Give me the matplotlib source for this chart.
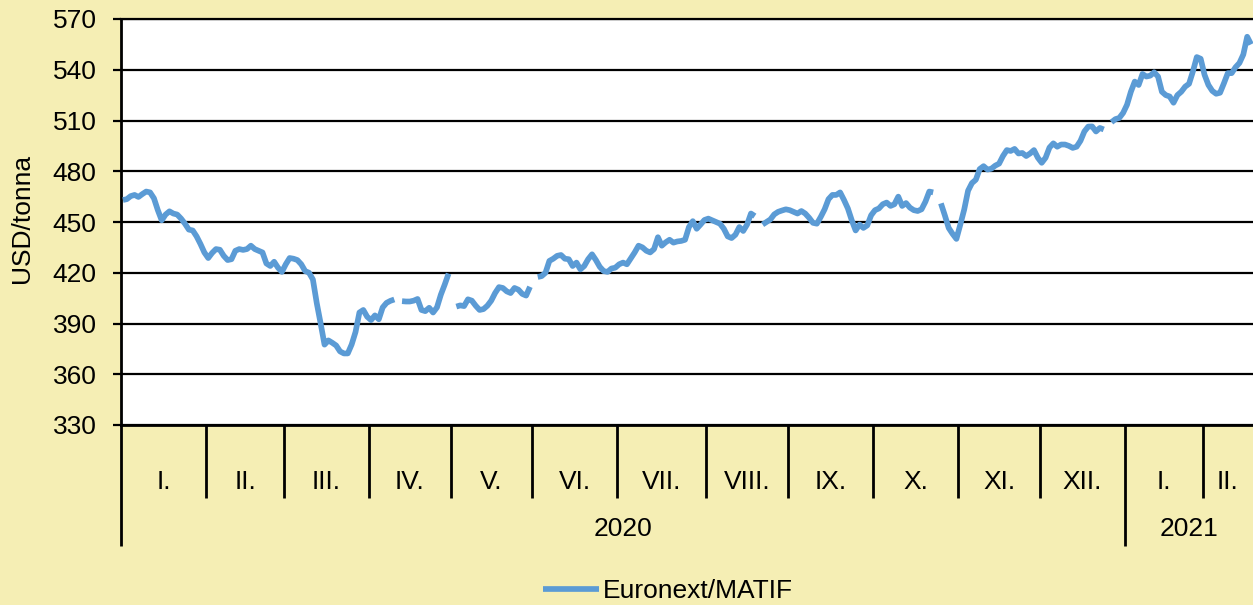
import numpy as np
import matplotlib
matplotlib.use("Agg")
import matplotlib.pyplot as plt
from matplotlib.lines import Line2D

plt.rcParams['font.family'] = ['Liberation Sans', 'DejaVu Sans']

nan = np.nan

# Daily Euronext/MATIF prices (USD/tonna), one list per month
jan20 = [463, 463.5, 465.3, 466, 464.8, 466.5, 468, 467.5, 464, 457, 451, 454.4, 456.3, 455,
         454.4, 452, 449, 445.5, 445, 441.5, 437, 432]
feb20 = [428.7, 431.7, 434, 433.6, 430, 427.5, 428, 433, 434, 433.5, 434, 436, 434, 433, 432,
         425.5, 424, 426.5, 423, 420.5]
mar20 = [425, 428.7, 428.3, 427.5, 425, 421, 420, 416, 402, 390, 377.5, 380, 378.6, 377,
         373.5, 372.3, 372.3, 377.6, 385, 396.5, 398, 394]
apr20 = [392, 394.8, 392.5, 399.5, 402.2, 403.4, 404.2, nan, 403.2, 403, 403, 403.5, 404.5,
         398, 397.3, 399.3, 396.5, 399.5, 407, 413, 419.5]
may20 = [nan, 400, 400.7, 400.3, 404.3, 403.5, 400.5, 398, 398.5, 400.5, 403.5, 408, 411.5,
         411, 409, 408, 411, 410, 407.5, 406.5, 411.7]
jun20 = [nan, 417.5, 418, 420, 427, 428.3, 430, 430.5, 428.3, 428, 424, 426, 422, 424, 428,
         430.9, 427.5, 423.5, 421, 420.5, 422.5, 423]
jul20 = [425, 426, 425, 428.5, 432, 436, 435, 433, 432, 434, 441, 436, 438, 439.5, 437.8,
         438.5, 438.8, 439.5, 447, 450.5, 446, 448.5, 451.2]
aug20 = [452, 451, 450, 449, 446, 441.5, 440.5, 442.5, 447, 444.7, 448.5, 455, 453.5, nan,
         448.5, 450, 451.5, 454.5, 456, 456.8, 457.5]
sep20 = [457, 456, 455, 456.5, 455, 452.5, 449.5, 449, 453, 457.5, 463.5, 466, 466, 467.5,
         463, 458, 451, 445, 448.5, 446.5, 448, 454]
oct20 = [457, 458, 460.5, 461.5, 459.5, 460.5, 465, 459.5, 461.2, 458.5, 457, 456.5, 457.5,
         462, 468, 467.5, nan, 461, 454, 446.5, 443, 440]
nov20 = [448.5, 457.3, 468.5, 473, 475, 481.3, 483, 481, 481.5, 483.3, 484.5, 489, 492.5,
         492, 493.2, 490.5, 490.8, 489, 490.5, 492.5, 488]
dec20 = [485, 488, 494, 496.5, 494.5, 495.8, 495.8, 495, 493.8, 494.5, 498, 503.5, 506.4,
         506.5, 503.5, 505.6, 504.7, nan, 509, 510.8, 511.5, 514.5]
jan21 = [519.3, 527, 533, 531, 537.5, 536, 536.5, 538.5, 536, 527, 525, 524.2, 520.5, 525,
         527, 530, 531.7, 539, 547.5, 546.5]
feb21 = [537, 531, 527.5, 525.8, 526.4, 532, 538, 538, 541.5, 544, 549, 559.5, 555]

month_data = [jan20, feb20, mar20, apr20, may20, jun20, jul20, aug20, sep20, oct20, nov20,
              dec20, jan21, feb21]
month_labels = ["I.", "II.", "III.", "IV.", "V.", "VI.", "VII.", "VIII.", "IX.", "X.", "XI.",
                "XII.", "I.", "II."]
month_year = [2020] * 12 + [2021] * 2
year_labels = ["2020", "2021"]
series_name = "Euronext/MATIF"
y_label = "USD/tonna"
y_ticks = list(range(330, 571, 30))

values = np.array([v for m in month_data for v in m], dtype=float)
x = np.arange(len(values))
counts = [len(m) for m in month_data]
bounds = np.concatenate([[0], np.cumsum(counts)]) - 0.5

W, H = 1253, 605
fig = plt.figure(figsize=(W / 100, H / 100), dpi=100)
bg = '#F5EEB4'
fig.patch.set_facecolor(bg)

ax = fig.add_axes([121 / W, (H - 425) / H, 1132 / W, 406 / H])
ax.set_facecolor('white')

line, = ax.plot(x, values, color='#5B9BD5', lw=4.1, solid_capstyle='butt',
                solid_joinstyle='round', zorder=3)

ax.set_xlim(bounds[0], bounds[-1])
ax.set_ylim(y_ticks[0], y_ticks[-1])
ax.set_yticks(y_ticks)
ax.set_xticks([])
ax.yaxis.grid(True, color='black', lw=1.6)
ax.set_axisbelow(True)
ax.spines['right'].set_visible(False)
ax.spines['top'].set_color('black')
ax.spines['top'].set_linewidth(1.6)
ax.spines['left'].set_linewidth(2)
ax.spines['bottom'].set_linewidth(2)
ax.tick_params(axis='y', direction='out', length=6, width=1.6, color='black',
               labelsize=19, pad=11.5)

trans = ax.get_xaxis_transform()
# month separators
year_change = [i for i in range(1, len(month_year)) if month_year[i] != month_year[i - 1]]
for i, b in enumerate(bounds[:-1]):
    long = (i == 0) or (i in year_change)
    y_end = -0.298 if long else -0.18
    ax.plot([b, b], [0, y_end], transform=trans, color='black', lw=2, clip_on=False,
            solid_capstyle='butt')
# month labels
for i, lab in enumerate(month_labels):
    cx = (bounds[i] + bounds[i + 1]) / 2
    ax.text(cx, -0.1404, lab, transform=trans, ha='center', va='center', fontsize=19)
# year labels
years = sorted(set(month_year))
for yl, yr in zip(year_labels, years):
    idx = [i for i, m in enumerate(month_year) if m == yr]
    cx = (bounds[idx[0]] + bounds[idx[-1] + 1]) / 2
    ax.text(cx, -0.256, yl, transform=trans, ha='center', va='center', fontsize=19)

fig.text(22 / W, 1 - 218 / H, y_label, rotation=90, ha='center', va='center', fontsize=19)

handle = Line2D([], [], color='#5B9BD5', lw=4.1, solid_capstyle='butt')
fig.legend([handle], [series_name], loc='center', bbox_to_anchor=(668 / W, 1 - 591 / H),
           frameon=False, fontsize=19, handlelength=2.1, handletextpad=0.15,
           borderpad=0, borderaxespad=0)

fig.savefig('out.png', dpi=100, facecolor=bg)
